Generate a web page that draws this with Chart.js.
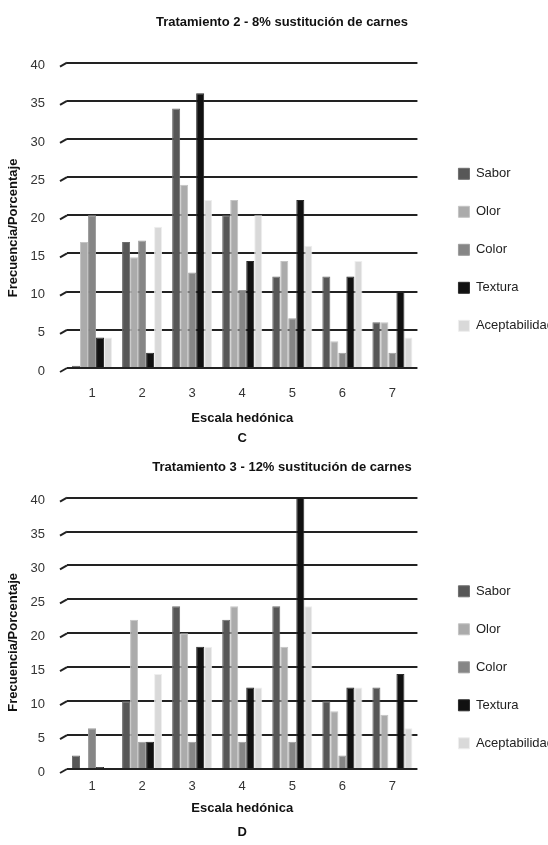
<!DOCTYPE html>
<html>
<head>
<meta charset="utf-8">
<script src="https://cdn.jsdelivr.net/npm/chart.js@4"></script>
<style>
  html, body { margin: 0; padding: 0; background: #fff; overflow: hidden; }
  .box { position: absolute; left: 0; width: 564px; }
  #boxC { top: 0; height: 450px; }
  #boxD { top: 450px; height: 395px; }
</style>
</head>
<body>
<div class="box" id="boxC"><canvas id="chartC"></canvas></div>
<div class="box" id="boxD"><canvas id="chartD"></canvas></div>
<script>
// escala hedonica 1..7
const escala = ["1", "2", "3", "4", "5", "6", "7"];
const series = ["Sabor", "Olor", "Color", "Textura", "Aceptabilidad"];
const colores = ["#575757", "#ababab", "#868686", "#111111", "#d9d9d9"];
const bordes = ["#6e6e6e", "#c4c4c4", "#9c9c9c", "#2a2a2a", "#eeeeee"];
const yTicks = [0, 5, 10, 15, 20, 25, 30, 35, 40];

// Tratamiento 2 - 8%
const saborC = [0.3, 16.5, 34, 20, 12, 12, 6];
const olorC = [16.5, 14.5, 24, 22, 14, 3.5, 6];
const colorC = [20, 16.7, 12.5, 10.2, 6.5, 2, 2];
const texturaC = [4, 2, 36, 14, 22, 12, 10];
const aceptC = [4, 18.5, 22, 20, 16, 14, 4];

// Tratamiento 3 - 12%
const saborD = [2, 10, 24, 22, 24, 10, 12];
const olorD = [0.2, 22, 20, 24, 18, 8.5, 8];
const colorD = [6, 4, 4, 4, 4, 2, 0.2];
const texturaD = [0.3, 4, 18, 12, 40, 12, 14];
const aceptD = [0.2, 14, 18, 12, 24, 12, 6];

const sans = "'Liberation Sans', Arial, sans-serif";

// little 3D slash at the left end of every grid line
const slashPlugin = {
  id: "slash",
  beforeDatasetsDraw(chart) {
    const ctx = chart.ctx;
    const y = chart.scales.y;
    const left = chart.chartArea.left;
    ctx.save();
    ctx.strokeStyle = "#222";
    ctx.lineWidth = 2;
    yTicks.forEach((t) => {
      const py = y.getPixelForValue(t);
      ctx.beginPath();
      ctx.moveTo(left - 7, py + 4);
      ctx.lineTo(left, py);
      ctx.stroke();
    });
    ctx.restore();
  },
};

function makeChart(id, title, letra, data, o) {
  const datasets = series.map((name, i) => ({
    label: name,
    data: data[i],
    backgroundColor: colores[i],
    borderColor: bordes[i],
    borderWidth: 1,
    categoryPercentage: 0.8,
    barPercentage: 1,
  }));

  return new Chart(document.getElementById(id), {
    type: "bar",
    data: { labels: escala, datasets: datasets },
    plugins: [slashPlugin],
    options: {
      responsive: true,
      maintainAspectRatio: false,
      animation: false,
      layout: { padding: 0 },
      plugins: {
        title: {
          display: true,
          text: title,
          color: "#111",
          font: { family: sans, size: 13, weight: "bold" },
          padding: { top: o.titleTop, bottom: o.titleBottom },
        },
        legend: {
          position: "right",
          align: "center",
          // blank legend title only pushes the items down
          title: {
            display: true,
            text: " ",
            font: { family: sans, size: 13 },
            padding: { top: o.legendShift, bottom: 0 },
          },
          labels: {
            boxWidth: 11,
            boxHeight: 11,
            padding: 25,
            color: "#222",
            font: { family: sans, size: 13 },
          },
        },
        tooltip: { enabled: false },
      },
      scales: {
        x: {
          afterFit: (axis) => { axis.height = o.xHeight; },
          grid: { display: false, drawTicks: false },
          border: { display: false },
          ticks: { color: "#333", font: { family: sans, size: 13 }, padding: o.xPad },
          title: {
            display: true,
            text: ["Escala hedónica", letra],
            color: "#111",
            font: { family: sans, size: 13, weight: "bold", lineHeight: o.xLine },
            padding: { top: 0, bottom: o.xBottom },
          },
        },
        y: {
          min: 0,
          max: 40,
          afterBuildTicks: (axis) => {
            axis.ticks = yTicks.map((v) => ({ value: v }));
          },
          afterFit: (axis) => { axis.width = 67; },
          grid: { color: "#222", lineWidth: 2, drawTicks: false },
          border: { display: false },
          ticks: { color: "#333", font: { family: sans, size: 13 }, padding: 22, labelOffset: 3 },
          title: {
            display: true,
            text: "Frecuencia/Porcentaje" + " ".repeat(o.ySpaces),
            color: "#111",
            font: { family: sans, size: 13, weight: "bold" },
            padding: { top: 6, bottom: 0 },
          },
        },
        // hidden strip between the bars and the legend
        gap: {
          display: false,
          position: "right",
          min: 0,
          max: 1,
          afterFit: (axis) => { axis.width = 16; },
        },
      },
    },
  });
}

makeChart("chartC", "Tratamiento 2 - 8% sustitución de carnes", "C",
  [saborC, olorC, colorC, texturaC, aceptC],
  { titleTop: 15, titleBottom: 32, xHeight: 82, xPad: 18, xLine: 1.54, xBottom: 2, ySpaces: 7, legendShift: 34 });

makeChart("chartD", "Tratamiento 3 - 12% sustitución de carnes", "D",
  [saborD, olorD, colorD, texturaD, aceptD],
  { titleTop: 10, titleBottom: 22, xHeight: 76, xPad: 10, xLine: 1.85, xBottom: 1, ySpaces: 5, legendShift: 24 });
</script>
</body>
</html>
